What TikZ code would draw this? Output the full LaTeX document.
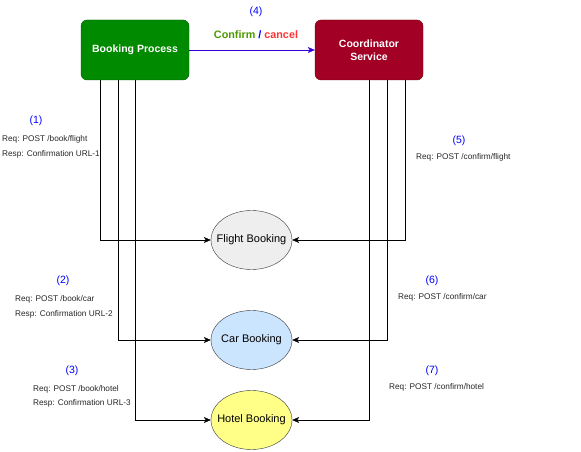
\documentclass[tikz,border=0pt]{standalone}
\usepackage{fontspec}
\setmainfont{Liberation Sans}
\usepackage{tikz}
\usetikzlibrary{arrows.meta,shapes.geometric}
\definecolor{procgreen}{HTML}{008A00}
\definecolor{procgreenline}{HTML}{005700}
\definecolor{coordred}{HTML}{A20025}
\definecolor{coordredline}{HTML}{6F0000}
\definecolor{flightfill}{HTML}{EEEEEE}
\definecolor{carfill}{HTML}{CCE5FF}
\definecolor{hotelfill}{HTML}{FFFF88}
\definecolor{ellline}{HTML}{36393D}
\definecolor{msgblue}{HTML}{3300DD}
\definecolor{okgreen}{HTML}{4D9900}
\definecolor{badred}{HTML}{FF3333}
\tikzset{
  procbox/.style  = {rounded corners=6pt,minimum width=108pt,minimum height=60pt,
                     text=white,font=\fontsize{10.5}{12.5}\selectfont\bfseries,align=center},
  svcell/.style   = {ellipse,draw=ellline,minimum width=81pt,minimum height=59pt,
                     inner xsep=-10pt,inner ysep=0pt,font=\fontsize{11}{13}\selectfont},
  callarr/.style  = {-{Stealth[length=7pt,width=6pt,inset=2pt]},black},
  stepnum/.style  = {text=blue,font=\fontsize{10.5}{12}\selectfont},
  reqtxt/.style   = {anchor=west,inner sep=1pt,font=\fontsize{8.25}{10}\selectfont,text=black!85}
}

\begin{document}
\begin{tikzpicture}[x=1pt,y=-1pt]
  \useasboundingbox (0,0) rectangle (581,452);
  % actors
  \node[procbox,fill=procgreen,draw=procgreenline]   (bp) at (135,50)  {Booking Process};
  \node[procbox,fill=coordred,draw=coordredline]     (cs) at (369,50)  {Coordinator\\Service};
  % services
  \node[svcell,fill=flightfill] (fb) at (251.5,240) {Flight Booking};
  \node[svcell,fill=carfill]    (cb) at (251.5,340) {Car Booking};
  \node[svcell,fill=hotelfill]  (hb) at (251.5,420) {Hotel Booking};
  % booking calls
  \draw[callarr] ([xshift=-35pt]bp.south) |- (fb.west);
  \draw[callarr] ([xshift=-17pt]bp.south) |- (cb.west);
  \draw[callarr] (bp.south) |- (hb.west);
  % confirm calls
  \draw[callarr] ([xshift=36pt]cs.south) |- (fb.east);
  \draw[callarr] ([xshift=18pt]cs.south) |- (cb.east);
  \draw[callarr] (cs.south) |- (hb.east);
  % hand over
  \draw[-{Stealth[length=7pt,width=6pt,inset=2pt]},msgblue] (bp) -- (cs);
  \node[stepnum] (n4) at (256,12) {(4)};
  \node[font=\fontsize{10.8}{12}\selectfont\bfseries] (cc) at (256,35)
    {\textcolor{okgreen}{Confirm} \textcolor{blue}{/} \textcolor{badred}{cancel}};
  % step labels, left
  \node[stepnum] (n1) at (36,121)  {(1)};
  \node[reqtxt]  (q1) at (1,139)   {Req: POST /book/flight};
  \node[reqtxt]  (r1) at (1,154)   {Resp: Confirmation URL-1};
  \node[stepnum] (n2) at (63,281)  {(2)};
  \node[reqtxt]  (q2) at (14,299)  {Req: POST /book/car};
  \node[reqtxt]  (r2) at (14,314)  {Resp: Confirmation URL-2};
  \node[stepnum] (n3) at (72,371)  {(3)};
  \node[reqtxt]  (q3) at (32,389)  {Req: POST /book/hotel};
  \node[reqtxt]  (r3) at (32,403)  {Resp: Confirmation URL-3};
  % step labels, right
  \node[stepnum] (n5) at (459,141) {(5)};
  \node[reqtxt]  (q5) at (415,157) {Req: POST /confirm/flight};
  \node[stepnum] (n6) at (432,281) {(6)};
  \node[reqtxt]  (q6) at (397,297) {Req: POST /confirm/car};
  \node[stepnum] (n7) at (432,371) {(7)};
  \node[reqtxt]  (q7) at (388,387) {Req: POST /confirm/hotel};
\end{tikzpicture}
\end{document}
